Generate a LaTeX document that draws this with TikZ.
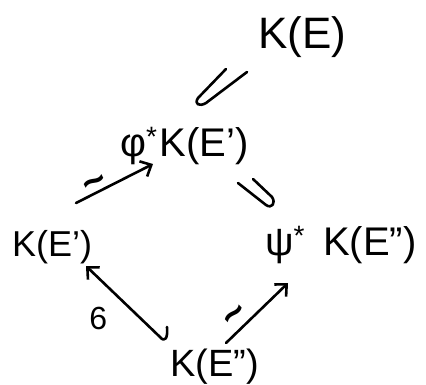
\documentclass[tikz,border=0pt]{standalone}
\usepackage{fontspec}
\setmainfont{Liberation Sans}
\usetikzlibrary{arrows.meta}
\begin{document}
\begin{tikzpicture}[x=1pt,y=-1pt,
  lab/.style={inner sep=0pt, anchor=base west, font=\fontsize{40}{44}\selectfont},
  big/.style={lab, font=\fontsize{44}{48}\selectfont},
  pen/.style={line width=2.6pt, line cap=round, line join=round},
  arr/.style={pen, -{Straight Barb[length=9pt,width=17pt,line width=2.6pt]}},
  tl/.style={font=\fontsize{40}{42}\selectfont\bfseries, inner sep=0pt},
  nl/.style={font=\fontsize{32}{34}\selectfont, inner sep=0pt}
]
\useasboundingbox (0,0) rectangle (426,384);
% nodes
\node[big] (KE)   at (258,48)  {K(E)};
\node[lab] (phiK) at (120,156) {φ\textsuperscript{*}\hspace{2pt}K(E’)};
\node[lab, font=\fontsize{36}{40}\selectfont] (KEp) at (12,256) {K(E’)};
\node[lab] (psiK) at (265,255) {ψ\textsuperscript{*}\hspace{18pt}K(E”)};
\node[lab, font=\fontsize{38}{42}\selectfont] (KEpp) at (170,376) {K(E”)};
% inclusion symbols
\draw[pen] (226,69) -- (198,98) .. controls (194,104) and (199,107) .. (206,103) -- (247,72);
\draw[pen] (238,183) -- (266,205) .. controls (272,209) and (276,203) .. (272,197) -- (253,179);
% arrows
\draw[arr] ([shift={(64,-53)}]KEp.base west) -- node[tl, pos=0.3, sloped, above=-3pt] {\textasciitilde} ([shift={(33,8)}]phiK.base west);
\draw[arr] ([shift={(56,-33)}]KEpp.base west) -- node[tl, pos=0.3, sloped, above=1pt] {\textasciitilde} ([shift={(23,28)}]psiK.base west);
\draw[arr] ([shift={(-3,-49)}]KEpp.base west) .. controls ([shift={(-2,-38)}]KEpp.base west) and ([shift={(-5,-33)}]KEpp.base west) .. ([shift={(-10,-39)}]KEpp.base west)
  -- node[nl, pos=0.55, xshift=-21pt, yshift=-21pt] {6} ([shift={(74,10)}]KEp.base west);
\end{tikzpicture}
\end{document}
